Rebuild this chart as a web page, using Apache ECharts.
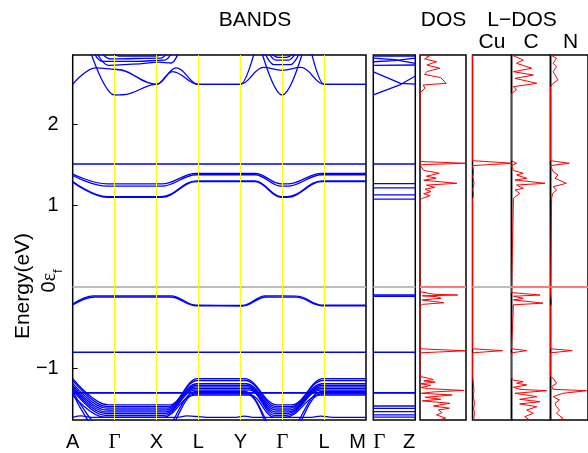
<!DOCTYPE html>
<html><head><meta charset="utf-8">
<script src="https://cdn.jsdelivr.net/npm/echarts@6/dist/echarts.min.js"></script>
<style>html,body{margin:0;padding:0;background:#fff}#c{width:588px;height:453px}</style>
</head><body><div id="c"></div><script>
// ---------- axis data ----------
const energyMin = -1.635, energyMax = 2.848;
const energyTicks = [-1, 0, 1, 2];
const energyTickLabels = ['\u22121', '0', '1', '2'];
const kTicks = [0, 1, 2, 3, 4, 5, 6, 7];
const kLabels = ['A', '\u0393', 'X', 'L', 'Y', '\u0393', 'L', 'M'];
const gzTicks = [0, 1];
const gzLabels = ['\u0393', 'Z'];
const panelTitles = ['BANDS', 'DOS', 'L\u2212DOS'];
const ldosTitles = ['Cu', 'C', 'N'];
const yAxisName = 'Energy(eV)';

// ---------- band data (k, E) ----------
const bandTop1 = [[0,2.488],[0.55,2.69],[1.05,2.67],[2,2.488],[2.47,2.69],[3,2.488],[4,2.488],[4.55,2.695],[5,2.66],[5.45,2.695],[6,2.488],[7,2.488]];
const bandTop2 = [[0.32,3.05],[1,2.357],[1.2,2.36],[2,2.488],[2.38,2.645],[3,2.488],[4,2.488],[4.42,3.05]];
const bandTop3 = [[4.42,3.05],[5,2.357],[5.58,3.05]];
const bandTop4 = [[5.62,3.05],[6,2.488],[7,2.488]];
const bandTopCl1 = [[0.38,3.0],[0.7,2.77],[1.5,2.77],[2.2,2.785],[2.48,3.0]];
const bandTopCl2 = [[0.45,3.0],[0.85,2.72],[1.6,2.74],[2.05,2.76],[2.35,2.75],[2.62,3.0]];
const bandTopCl3 = [[0.5,3.0],[0.9,2.80],[2.1,2.81],[2.4,3.0]];
const bandTopCl4 = [[0.8,2.95],[1.1,2.835],[2,2.835],[2.3,2.95]];
const bandTopCl5 = [[4.48,3.0],[4.8,2.73],[5.2,2.73],[5.52,3.0]];
const bandTopCl6 = [[4.55,3.0],[4.85,2.785],[5.15,2.785],[5.45,3.0]];
const bandTopCl7 = [[4.62,2.95],[4.9,2.82],[5.1,2.82],[5.38,2.95]];
const bandFlat15 = [[0,1.509],[7,1.509]];
const bandC1 = [[0,1.385],[0.82,1.265],[2.12,1.265],[2.95,1.395],[4.35,1.395],[4.98,1.265],[5.12,1.265],[5.95,1.395],[7,1.395]];
const bandC2 = [[0,1.368],[0.82,1.237],[2.12,1.237],[2.95,1.377],[4.35,1.377],[4.98,1.237],[5.12,1.237],[5.95,1.377],[7,1.377]];
const bandC3 = [[0,1.295],[0.82,1.108],[2.12,1.108],[2.95,1.302],[4.35,1.302],[4.98,1.108],[5.12,1.108],[5.95,1.302],[7,1.302]];
const bandC4 = [[0,1.285],[0.82,1.100],[2.12,1.100],[2.95,1.293],[4.35,1.293],[4.98,1.100],[5.12,1.100],[5.95,1.293],[7,1.293]];
const bandV1 = [[0,-0.21],[0.5,-0.11],[2.35,-0.11],[2.95,-0.225],[4.05,-0.228],[4.6,-0.11],[5.35,-0.113],[5.95,-0.225],[7,-0.225]];
const bandV2 = [[0,-0.222],[0.52,-0.124],[2.33,-0.124],[2.95,-0.232],[4.05,-0.235],[4.62,-0.124],[5.33,-0.127],[5.95,-0.232],[7,-0.232]];
const bandFlat08 = [[0,-0.803],[7,-0.803]];
const bandB1 = [[0,-1.128],[0.85,-1.45],[2.3,-1.45],[2.98,-1.128],[4.1,-1.128],[4.88,-1.45],[5.22,-1.45],[5.98,-1.128],[7,-1.128]];
const bandB2 = [[0,-1.148],[0.83,-1.47],[2.28,-1.47],[2.97,-1.15],[4.12,-1.15],[4.87,-1.47],[5.2,-1.47],[5.97,-1.15],[7,-1.15]];
const bandB3 = [[0,-1.185],[0.81,-1.49],[2.26,-1.49],[2.96,-1.19],[4.14,-1.19],[4.86,-1.49],[5.18,-1.49],[5.96,-1.19],[7,-1.19]];
const bandB4 = [[0,-1.21],[0.8,-1.512],[2.24,-1.512],[2.95,-1.21],[4.16,-1.21],[4.85,-1.512],[5.16,-1.512],[5.95,-1.21],[7,-1.21]];
const bandB5 = [[0,-1.228],[0.79,-1.535],[2.22,-1.535],[2.94,-1.228],[4.18,-1.228],[4.84,-1.535],[5.14,-1.535],[5.94,-1.228],[7,-1.228]];
const bandB6 = [[0,-1.248],[0.78,-1.555],[2.2,-1.555],[2.93,-1.248],[4.2,-1.248],[4.83,-1.555],[5.12,-1.555],[5.93,-1.248],[7,-1.248]];
const bandB7 = [[0,-1.268],[0.77,-1.578],[2.18,-1.578],[2.92,-1.268],[4.22,-1.268],[4.82,-1.578],[5.1,-1.578],[5.92,-1.268],[7,-1.268]];
const bandB8 = [[0,-1.33],[0.76,-1.60],[2.16,-1.60],[2.9,-1.328],[4.24,-1.328],[4.81,-1.60],[5.08,-1.60],[5.9,-1.328],[7,-1.328]];
const bandB9 = [[0,-1.285],[1,-1.85],[2,-1.85],[2.95,-1.285],[4.1,-1.285],[5,-1.85],[5.95,-1.285],[7,-1.285]];
const bandB10 = [[0,-1.31],[1,-1.95],[2,-1.95],[2.93,-1.315],[4.15,-1.315],[5,-1.95],[5.93,-1.315],[7,-1.315]];
const bandFlat13a = [[0,-1.298],[7,-1.298]];
const bandFlat13b = [[0,-1.306],[7,-1.306]];
const bandBottom = [[0,-1.602],[0.2,-1.585],[0.45,-1.602],[2.5,-1.602],[2.72,-1.585],[2.95,-1.592],[3.2,-1.602],[3.9,-1.602],[4.1,-1.587],[4.3,-1.602],[5.7,-1.602],[5.92,-1.587],[6.2,-1.602],[7,-1.602]];
const mainBands = [bandTop1,bandTop2,bandTop3,bandTop4,bandTopCl1,bandTopCl2,bandTopCl3,bandTopCl4,bandTopCl5,bandTopCl6,bandTopCl7,
  bandFlat15,bandC1,bandC2,bandC3,bandC4,bandV1,bandV2,bandFlat08,
  bandB1,bandB2,bandB3,bandB4,bandB5,bandB6,bandB7,bandB8,bandB9,bandB10,bandFlat13a,bandFlat13b,bandBottom];

// Γ–Z panel
const gzFlatEnergies = [1.509,1.267,1.215,1.13,1.078,-0.10,-0.115,-0.803,-1.298,-1.306,-1.463,-1.491,-1.532,-1.573,-1.60];
const gzTop1 = [[0,2.357],[0.65,2.485],[1,2.59]];
const gzTop2 = [[0,2.640],[0.65,2.50],[1,2.49]];
const gzTop3 = [[0,2.765],[0.5,2.78],[1,2.81]];
const gzTop4 = [[0,2.81],[0.5,2.79],[1,2.745]];
const gzTop5 = [[0,2.72],[1,2.725]];
const gzTop6 = [[0,2.835],[1,2.835]];

// ---------- DOS data (E, DOS) ----------
const dosTotal = [[2.848,0.5],[2.83,2.0],[2.80,1.0],[2.765,3.6],[2.725,1.5],[2.685,4.3],[2.645,1.5],[2.61,1.0],[2.57,4.5],[2.50,5.7],[2.48,0.7],[2.44,1.1],[2.40,0.3],[2.37,0],
 [1.54,0],[1.518,9.8],[1.50,0],[1.43,0.8],[1.41,2.9],[1.395,4.2],[1.36,1.4],[1.335,3.5],[1.31,0.8],[1.272,8.0],[1.25,1.4],[1.222,3.2],[1.20,1.1],[1.17,2.4],[1.145,0.8],[1.12,2.2],[1.09,0.6],[1.07,0],
 [-0.06,0],[-0.09,3.0],[-0.10,8.2],[-0.11,0.5],[-0.12,3.6],[-0.14,4.6],[-0.16,0.4],[-0.195,5.2],[-0.215,0.5],[-0.24,0],
 [-0.76,0],[-0.785,9.8],[-0.81,0],
 [-1.10,0],[-1.125,2.0],[-1.14,2.9],[-1.155,0.8],[-1.17,3.3],[-1.19,0],[-1.21,2.4],[-1.235,0.2],[-1.25,1.8],[-1.272,9.6],[-1.29,3.0],[-1.307,0.3],[-1.328,7.0],[-1.356,1.1],[-1.38,4.5],[-1.40,0.5],[-1.43,6.5],[-1.463,2.9],[-1.49,6.4],[-1.512,4.0],[-1.545,4.8],[-1.573,3.6],[-1.612,5.6],[-1.635,4.0]];
const dosCu = [[2.848,0],[1.55,0],[1.518,10.5],[1.49,0],[1.42,0.3],[1.35,0.1],[1.27,0.4],[1.2,0.1],[1.12,0.3],[1.08,0],[-0.76,0],[-0.783,7.7],[-0.81,0],[-1.10,0],[-1.27,0.4],[-1.33,0.2],[-1.43,0.5],[-1.5,0.3],[-1.55,0.5],[-1.635,0.3]];
const dosC = [[2.848,0.5],[2.786,3.0],[2.746,1.3],[2.685,5.2],[2.643,0.5],[2.602,5.6],[2.561,0.9],[2.50,6.5],[2.459,0.5],[2.418,1.3],[2.377,0],
 [1.55,0],[1.518,1.3],[1.49,0],[1.43,0.5],[1.395,3.0],[1.374,1.3],[1.334,3.9],[1.313,0.9],[1.272,8.6],[1.251,1.3],[1.21,3.0],[1.19,0.9],[1.149,2.1],[1.088,0.5],[1.07,0],
 [-0.07,0],[-0.1,7.3],[-0.115,0.5],[-0.14,3.0],[-0.16,0.5],[-0.2,8.1],[-0.22,0.5],[-0.24,0],
 [-0.76,0],[-0.783,3.9],[-0.81,0],
 [-1.12,0],[-1.147,0.5],[-1.164,3.0],[-1.184,1.3],[-1.205,3.9],[-1.233,0.5],[-1.258,2.1],[-1.275,9.0],[-1.307,0.9],[-1.348,6.5],[-1.381,2.1],[-1.41,7.3],[-1.438,2.1],[-1.471,6.5],[-1.512,3.9],[-1.553,5.6],[-1.594,3.4],[-1.635,4.7]];
const dosN = [[2.848,0.3],[2.807,1.6],[2.746,0.7],[2.705,1.6],[2.643,0.7],[2.541,2.0],[2.50,0.7],[2.459,0],
 [1.55,0],[1.518,5.0],[1.49,0],[1.415,0.7],[1.374,2.0],[1.334,1.2],[1.272,4.2],[1.23,0.7],[1.19,1.6],[1.149,0.6],[1.088,0.3],[1.07,0],
 [-0.08,0],[-0.1,0.4],[-0.2,0.3],[-0.24,0],
 [-0.76,0],[-0.783,5.8],[-0.81,0],
 [-1.10,0],[-1.123,0.7],[-1.143,0.3],[-1.184,1.6],[-1.225,0.3],[-1.258,0.7],[-1.275,9.6],[-1.307,3.3],[-1.348,0.7],[-1.39,2.4],[-1.43,1.2],[-1.471,1.6],[-1.512,2.4],[-1.553,1.6],[-1.614,3.3],[-1.635,2.5]];

// ---------- layout ----------
const FONT = "'Liberation Sans', Arial, sans-serif";
const SERIF = "'Liberation Serif', 'DejaVu Serif', serif";
const TOP = 55, H = 365;
const grids = [
  {left: 72.7, top: TOP, width: 293.3, height: H},
  {left: 373.3, top: TOP, width: 42, height: H},
  {left: 420, top: TOP, width: 46, height: H},
  {left: 472.5, top: TOP, width: 39, height: H},
  {left: 511.5, top: TOP, width: 39, height: H},
  {left: 550.5, top: TOP, width: 39, height: H}
].map(g => Object.assign(g, {show: true, borderColor: '#000', borderWidth: 1.5, containLabel: false}));

const kFmt = lab => (lab === '\u0393' ? '{g|\u0393}' : lab);
const labelRich = {g: {fontFamily: SERIF, fontSize: 21, color: '#000'}};

const xAxes = [
  {gridIndex: 0, type: 'value', min: 0, max: 7,
   axisLine: {show: false}, axisTick: {show: false}, splitLine: {show: false},
   axisLabel: {customValues: kTicks, formatter: v => kFmt(kLabels[kTicks.indexOf(v)]), margin: 12,
     fontSize: 20, color: '#000', fontFamily: FONT, rich: labelRich, alignMaxLabel: 'right'}},
  {gridIndex: 1, type: 'value', min: 0, max: 1,
   axisLine: {show: false}, axisTick: {show: false}, splitLine: {show: false},
   axisLabel: {customValues: gzTicks, formatter: v => kFmt(gzLabels[gzTicks.indexOf(v)]), margin: 12,
     fontSize: 20, color: '#000', fontFamily: FONT, rich: labelRich, alignMinLabel: 'left', alignMaxLabel: 'right'}},
  {gridIndex: 2, type: 'value', min: 0, max: 10, show: false},
  {gridIndex: 3, type: 'value', min: 0, max: 10, show: false},
  {gridIndex: 4, type: 'value', min: 0, max: 10, show: false},
  {gridIndex: 5, type: 'value', min: 0, max: 10, show: false}
];
const yAxes = [
  {gridIndex: 0, type: 'value', min: energyMin, max: energyMax,
   axisLine: {show: false}, splitLine: {show: false},
   axisTick: {show: true, inside: true, length: 5, customValues: energyTicks, lineStyle: {color: '#000', width: 1}},
   axisLabel: {customValues: energyTicks, margin: 14, fontSize: 20, color: '#000', fontFamily: FONT,
     formatter: v => (v === 0 ? '' : energyTickLabels[energyTicks.indexOf(v)])}},
  {gridIndex: 0, type: 'value', min: energyMin, max: energyMax, position: 'left',
   axisLine: {show: false}, axisTick: {show: false}, splitLine: {show: false},
   axisLabel: {customValues: [0], rotate: 90, margin: 8, fontFamily: FONT, color: '#000',
     formatter: v => '{n|' + energyTickLabels[energyTicks.indexOf(v)] + '}{e|\u03b5}{s|f}',
     rich: {
       n: {fontSize: 20, fontFamily: FONT, color: '#000', verticalAlign: 'bottom', padding: [0, 0, 5, 12]},
       e: {fontSize: 20, fontFamily: SERIF, color: '#000', verticalAlign: 'bottom', padding: [0, 0, 5, 0]},
       s: {fontSize: 13, fontFamily: FONT, color: '#000', verticalAlign: 'bottom'}
     }}}
];
for (let i = 1; i < 6; i++) yAxes.push({gridIndex: i, type: 'value', min: energyMin, max: energyMax, show: false});
const yIdx = [0, 2, 3, 4, 5, 6];

const series = [];
const fermiGray = {color: '#bdbdbd', width: 2, type: 'solid'};
const fermiRed = {color: '#ff7a7a', width: 2, type: 'solid'};
function guideSeries(gi, lines) {
  return {type: 'line', xAxisIndex: gi, yAxisIndex: yIdx[gi], data: [], z: 1, silent: true,
    markLine: {silent: true, symbol: ['none', 'none'], label: {show: false}, animation: false, data: lines}};
}
// Fermi + high-symmetry verticals on band panel
series.push(guideSeries(0, [{yAxis: 0, lineStyle: fermiGray}].concat(
  kTicks.slice(1, -1).map(k => ({xAxis: k, lineStyle: {color: '#ffff00', width: 1, type: 'solid'}})))));
series.push(guideSeries(1, [{yAxis: 0, lineStyle: fermiGray}]));
series.push(guideSeries(2, [{yAxis: 0, lineStyle: fermiRed}]));
series.push(guideSeries(3, [{yAxis: 0, lineStyle: fermiGray}]));
series.push(guideSeries(4, [{yAxis: 0, lineStyle: fermiRed}]));
series.push(guideSeries(5, [{yAxis: 0, lineStyle: fermiRed}]));

const bandStyle = {color: '#0000ff', width: 1.3};
mainBands.forEach(b => series.push({type: 'line', xAxisIndex: 0, yAxisIndex: 0, data: b, symbol: 'none',
  smooth: 0.4, smoothMonotone: 'x', lineStyle: bandStyle, clip: true, z: 3, silent: true}));
const gzBands = gzFlatEnergies.map(e => [[0, e], [1, e]]).concat([gzTop1, gzTop2, gzTop3, gzTop4, gzTop5, gzTop6]);
gzBands.forEach(b => series.push({type: 'line', xAxisIndex: 1, yAxisIndex: 2, data: b, symbol: 'none',
  lineStyle: bandStyle, clip: true, z: 3, silent: true}));

const dosStyle = {color: '#ff0000', width: 1};
[[dosTotal, 2], [dosCu, 3], [dosC, 4], [dosN, 5]].forEach(([d, gi]) => {
  const pts = [[0, energyMax]].concat(d.map(p => [p[1], p[0]]));
  series.push({type: 'line', xAxisIndex: gi, yAxisIndex: yIdx[gi], data: pts, symbol: 'none',
    lineStyle: dosStyle, clip: true, z: 3, silent: true});
});

function txt(x, y, text, size, rot) {
  return {type: 'text', x, y, rotation: rot || 0, silent: true,
    style: {text, fontSize: size, fontFamily: FONT, fill: '#000', align: 'center', verticalAlign: 'middle'}};
}
const graphics = [
  txt(255, 20.5, panelTitles[0], 21),
  txt(443.5, 20.5, panelTitles[1], 21),
  txt(522, 20.5, panelTitles[2], 21),
  txt(492, 42.5, ldosTitles[0], 21),
  txt(531, 42.5, ldosTitles[1], 21),
  txt(570.5, 42.5, ldosTitles[2], 21),
  txt(23, 286, yAxisName, 21, Math.PI / 2)
];

const chart = echarts.init(document.getElementById('c'), null, {renderer: 'canvas'});
chart.setOption({
  animation: false,
  backgroundColor: '#fff',
  grid: grids, xAxis: xAxes, yAxis: yAxes, series, graphic: graphics
});
</script></body></html>
